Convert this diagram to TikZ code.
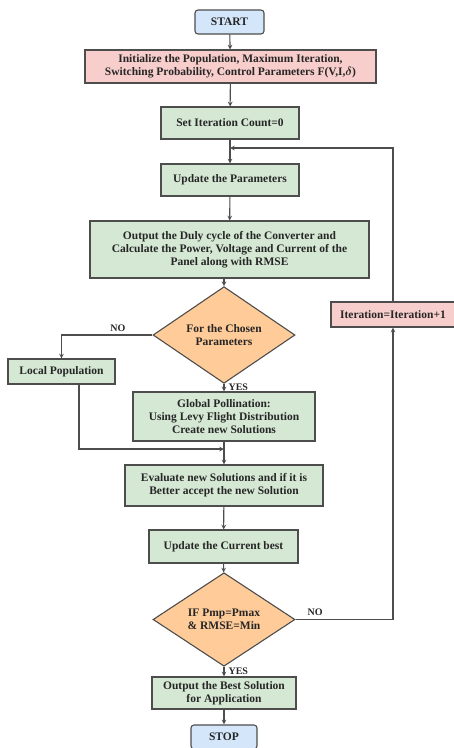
\documentclass[tikz,border=0pt]{standalone}
\usepackage{amsmath}
\usepackage{fontspec}
\setmainfont{Liberation Serif}
\usetikzlibrary{shapes.geometric}

\definecolor{termblue}{HTML}{D4E6FA}
\definecolor{initpink}{HTML}{F8CECC}
\definecolor{stepgreen}{HTML}{D5E8D4}
\definecolor{decorange}{HTML}{FFCC99}
\definecolor{edgegray}{HTML}{4D4D4D}
\definecolor{txtgray}{HTML}{262626}

\tikzset{
  flowtext/.style={font=\fontsize{11.5}{13.2}\selectfont\bfseries, text=txtgray, align=center, inner sep=0pt},
  terminal/.style={flowtext, draw=edgegray, line width=1.1pt, fill=termblue, rounded corners=3pt},
  stepbox/.style={flowtext, draw=edgegray, line width=1.1pt, fill=stepgreen},
  pinkbox/.style={flowtext, draw=edgegray, line width=1.1pt, fill=initpink},
  decision/.style={flowtext, diamond, draw=edgegray, line width=1.1pt, fill=decorange},
  flow/.style={->, draw=edgegray, line width=1.1pt},
  branch/.style={font=\fontsize{10}{11}\selectfont\bfseries, text=txtgray, inner sep=1pt}
}

\begin{document}
\begin{tikzpicture}[x=1pt, y=-1pt, >=stealth]

	\useasboundingbox (0,0) rectangle (454,748);

	% ================= main column =================
	\node[terminal, minimum width=69, minimum height=24] (start) at (229.5,22) {START};
	\node[pinkbox, minimum width=291, minimum height=33] (init) at (230.5,66.5)
		{Initialize the Population, Maximum Iteration,\\Switching Probability, Control Parameters F(V,I,$\boldsymbol{\delta}$)};
	\node[stepbox, minimum width=138, minimum height=32] (setit) at (230,123) {Set Iteration Count=0};
	\node[stepbox, minimum width=138, minimum height=32] (updp) at (230,180) {Update the Parameters};
	\node[stepbox, minimum width=279, minimum height=57] (outd) at (229.5,249.5)
		{Output the Duly cycle of the Converter and\\Calculate the Power, Voltage and Current of the\\Panel along with RMSE};
	\node[decision, minimum width=142, minimum height=64] (dec1) at (224,335) {For the Chosen\\Parameters};
	\node[stepbox, minimum width=182, minimum height=49] (glob) at (224,416.5)
		{Global Pollination:\\Using Levy Flight Distribution\\Create new Solutions};
	\node[stepbox, minimum width=198, minimum height=41] (eval) at (224,485.5)
		{Evaluate new Solutions and if it is\\Better accept the new Solution};
	\node[stepbox, minimum width=149, minimum height=33] (updc) at (223.5,546.5) {Update the Current best};
	\node[decision, minimum width=142, minimum height=65] (dec2) at (224,619.5) {IF Pmp=Pmax\\\& RMSE=Min};
	\node[stepbox, minimum width=144, minimum height=32] (outb) at (224,693) {Output the Best Solution\\for Application};
	\node[terminal, minimum width=66, minimum height=24] (stop) at (224,737) {STOP};

	% ================= side boxes =================
	\node[stepbox, minimum width=107, minimum height=25] (local) at (61.5,371.5) {Local Population};
	\node[pinkbox, minimum width=124, minimum height=25] (iter) at (393,314.5) {Iteration=Iteration+1};

	\coordinate (merge) at (224,449);
	\coordinate (loopin) at (230,148);

	% ================= connectors =================
	\draw[flow] (start) -- (init);
	\draw[flow] (init) -- (setit);
	\draw[flow] (setit) -- (updp);
	\draw[flow] (updp) -- (outd);
	\draw[flow] (outd.south -| dec1.north) -- (dec1.north);
	\draw[flow] (dec1.west) -| (local.north) node[branch, pos=0.19, above=2pt] {NO};
	\draw[flow] (dec1.south) -- (glob.north) node[branch, pos=0.45, right=3pt] {YES};
	\draw[flow] ([xshift=17.5]local.south) |- (merge);
	\draw[flow] (glob) -- (eval);
	\draw[flow] (eval) -- (updc);
	\draw[flow] (updc) -- (dec2);
	\draw[flow] (dec2) -- (outb) node[branch, pos=0.45, right=3pt] {YES};
	\draw[flow] (outb) -- (stop);
	\draw[flow] (dec2.east) -| (iter.south) node[branch, pos=0.1, above=2pt] {NO};
	\draw[flow] (iter.north) |- (loopin);

\end{tikzpicture}
\end{document}
